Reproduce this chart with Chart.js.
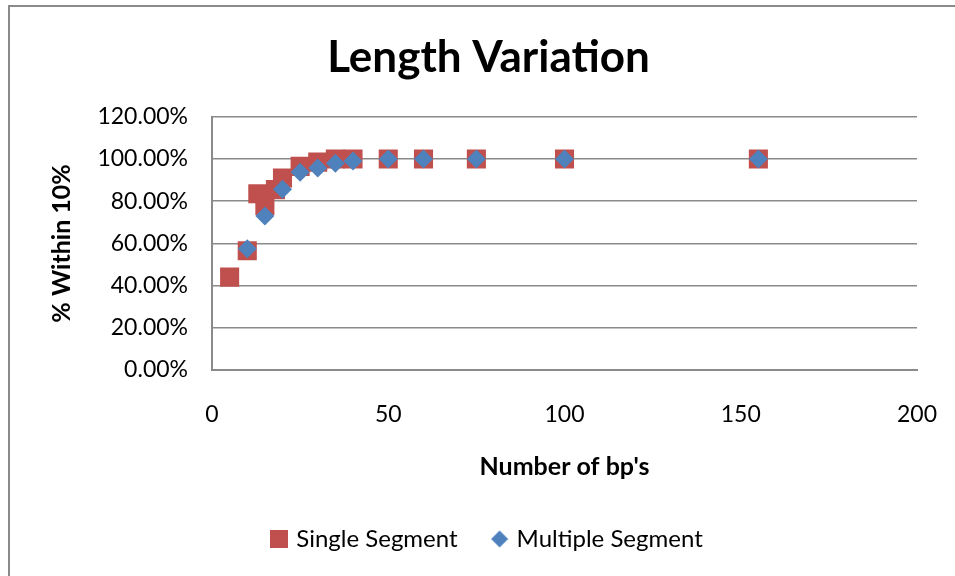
<!DOCTYPE html>
<html>
<head>
<meta charset="utf-8">
<script src="https://cdn.jsdelivr.net/npm/chart.js@4/dist/chart.umd.min.js"></script>
<style>
  html, body { margin: 0; padding: 0; background: #fff; }
  #c { display: block; }
</style>
</head>
<body>
<canvas id="c" width="955" height="576"></canvas>
<script>
// ---- data ----
const chartTitle = "Length Variation";
const xAxisTitle = "Number of bp's";
const yAxisTitle = "% Within 10%";
const seriesNames = ["Single Segment", "Multiple Segment"];

const singleX = [5, 10, 13, 15, 18, 20, 25, 30, 35, 40, 50, 60, 75, 100, 155];
const singleY = [44, 56.5, 83.5, 78, 85.5, 91, 96.5, 98.5, 100, 100, 100, 100, 100, 100, 100];

const multiX = [10, 15, 20, 25, 30, 35, 40, 50, 60, 75, 100, 155];
const multiY = [57.5, 73, 85.7, 93.7, 95.7, 98, 99, 100, 100, 100, 100, 100];

const xTicks = [0, 50, 100, 150, 200];
const yTicks = [0, 20, 40, 60, 80, 100, 120];

const RED = '#C0504D';
const BLUE = '#4F81BD';
const FONT = 'Lato, "Open Sans", sans-serif';

function toPoints(xs, ys) { return xs.map((x, i) => ({ x: x, y: ys[i] })); }

// small legend swatches
function swatch(kind, color) {
  const c = document.createElement('canvas');
  const s = 18;
  c.width = s; c.height = s;
  const g = c.getContext('2d');
  g.fillStyle = color;
  if (kind === 'square') {
    g.fillRect(0, 0, s, s);
  } else {
    g.beginPath();
    g.moveTo(s / 2, 0.5); g.lineTo(s - 0.5, s / 2); g.lineTo(s / 2, s - 0.5); g.lineTo(0.5, s / 2);
    g.closePath(); g.fill();
  }
  return c;
}
const legendSwatches = [swatch('square', RED), swatch('diamond', BLUE)];

const frame = {
  id: 'frame',
  beforeDraw(chart) {
    const ctx = chart.ctx;
    ctx.save();
    ctx.fillStyle = '#fff';
    ctx.fillRect(0, 0, chart.width, chart.height);
    ctx.strokeStyle = '#8a8a8a';
    ctx.lineWidth = 2;
    ctx.beginPath();
    ctx.moveTo(9, 576); ctx.lineTo(9, 6); ctx.lineTo(955, 6);
    ctx.stroke();
    ctx.restore();
  }
};

new Chart(document.getElementById('c'), {
  type: 'scatter',
  data: {
    datasets: [
      {
        label: seriesNames[0],
        data: toPoints(singleX, singleY),
        pointStyle: 'rect',
        pointRadius: 13.5,
        pointHoverRadius: 13.5,
        backgroundColor: RED,
        borderColor: RED,
        borderWidth: 0,
        order: 1
      },
      {
        label: seriesNames[1],
        data: toPoints(multiX, multiY),
        pointStyle: 'rectRot',
        pointRadius: 9.5,
        pointHoverRadius: 9.5,
        backgroundColor: BLUE,
        borderColor: BLUE,
        borderWidth: 0,
        order: 0
      }
    ]
  },
  options: {
    responsive: false,
    animation: false,
    devicePixelRatio: 1,
    layout: { padding: { left: 22, right: 0, top: 6, bottom: 15 } },
    plugins: {
      tooltip: { enabled: false },
      title: {
        display: true,
        text: chartTitle,
        color: '#000',
        font: { family: FONT, size: 44, weight: 'bold' },
        padding: { top: 25, bottom: 33 }
      },
      legend: {
        position: 'bottom',
        labels: {
          color: '#000',
          font: { family: FONT, size: 24 },
          usePointStyle: true,
          pointStyleWidth: 10,
          boxHeight: 18,
          padding: 37,
          sort: (a, b) => a.datasetIndex - b.datasetIndex,
          generateLabels(chart) {
            return chart.data.datasets.map((ds, i) => ({
              text: ds.label,
              datasetIndex: i,
              pointStyle: legendSwatches[i],
              fillStyle: ds.backgroundColor,
              strokeStyle: ds.borderColor,
              lineWidth: 0,
              hidden: false,
              fontColor: '#000'
            }));
          }
        }
      }
    },
    scales: {
      x: {
        type: 'linear',
        position: 'bottom',
        min: 0, max: 200,
        afterBuildTicks(scale) { scale.ticks = xTicks.map(v => ({ value: v })); },
        afterFit(scale) { scale.height = 120; },
        grid: { display: false, drawTicks: true, tickLength: 31 },
        border: { display: true, color: '#8a8a8a', width: 2 },
        ticks: {
          color: '#000',
          font: { family: FONT, size: 23 },
          padding: 0,
          maxRotation: 0,
          callback: v => String(v)
        },
        title: {
          display: true,
          text: xAxisTitle,
          color: '#000',
          font: { family: FONT, size: 25, weight: 'bold' },
          padding: { top: 0, bottom: 8 }
        }
      },
      y: {
        type: 'linear',
        position: 'left',
        min: 0, max: 120,
        afterBuildTicks(scale) { scale.ticks = yTicks.map(v => ({ value: v })); },
        afterFit(scale) { scale.width = 190; },
        grid: { display: true, color: '#8a8a8a', lineWidth: 1.5, drawTicks: false },
        border: { display: true, color: '#8a8a8a', width: 2 },
        ticks: {
          color: '#000',
          font: { family: FONT, size: 23 },
          padding: 24,
          callback: v => v.toFixed(2) + '%'
        },
        title: {
          display: true,
          text: yAxisTitle,
          color: '#000',
          font: { family: FONT, size: 25, weight: 'bold' },
          padding: { top: 25, bottom: 0 }
        }
      },
      yRight: {
        type: 'linear',
        position: 'right',
        display: true,
        afterFit(scale) { scale.width = 38; },
        grid: { display: false, drawTicks: false },
        border: { display: false },
        ticks: { display: false },
        title: { display: false }
      }
    }
  },
  plugins: [frame]
});
</script>
</body>
</html>
